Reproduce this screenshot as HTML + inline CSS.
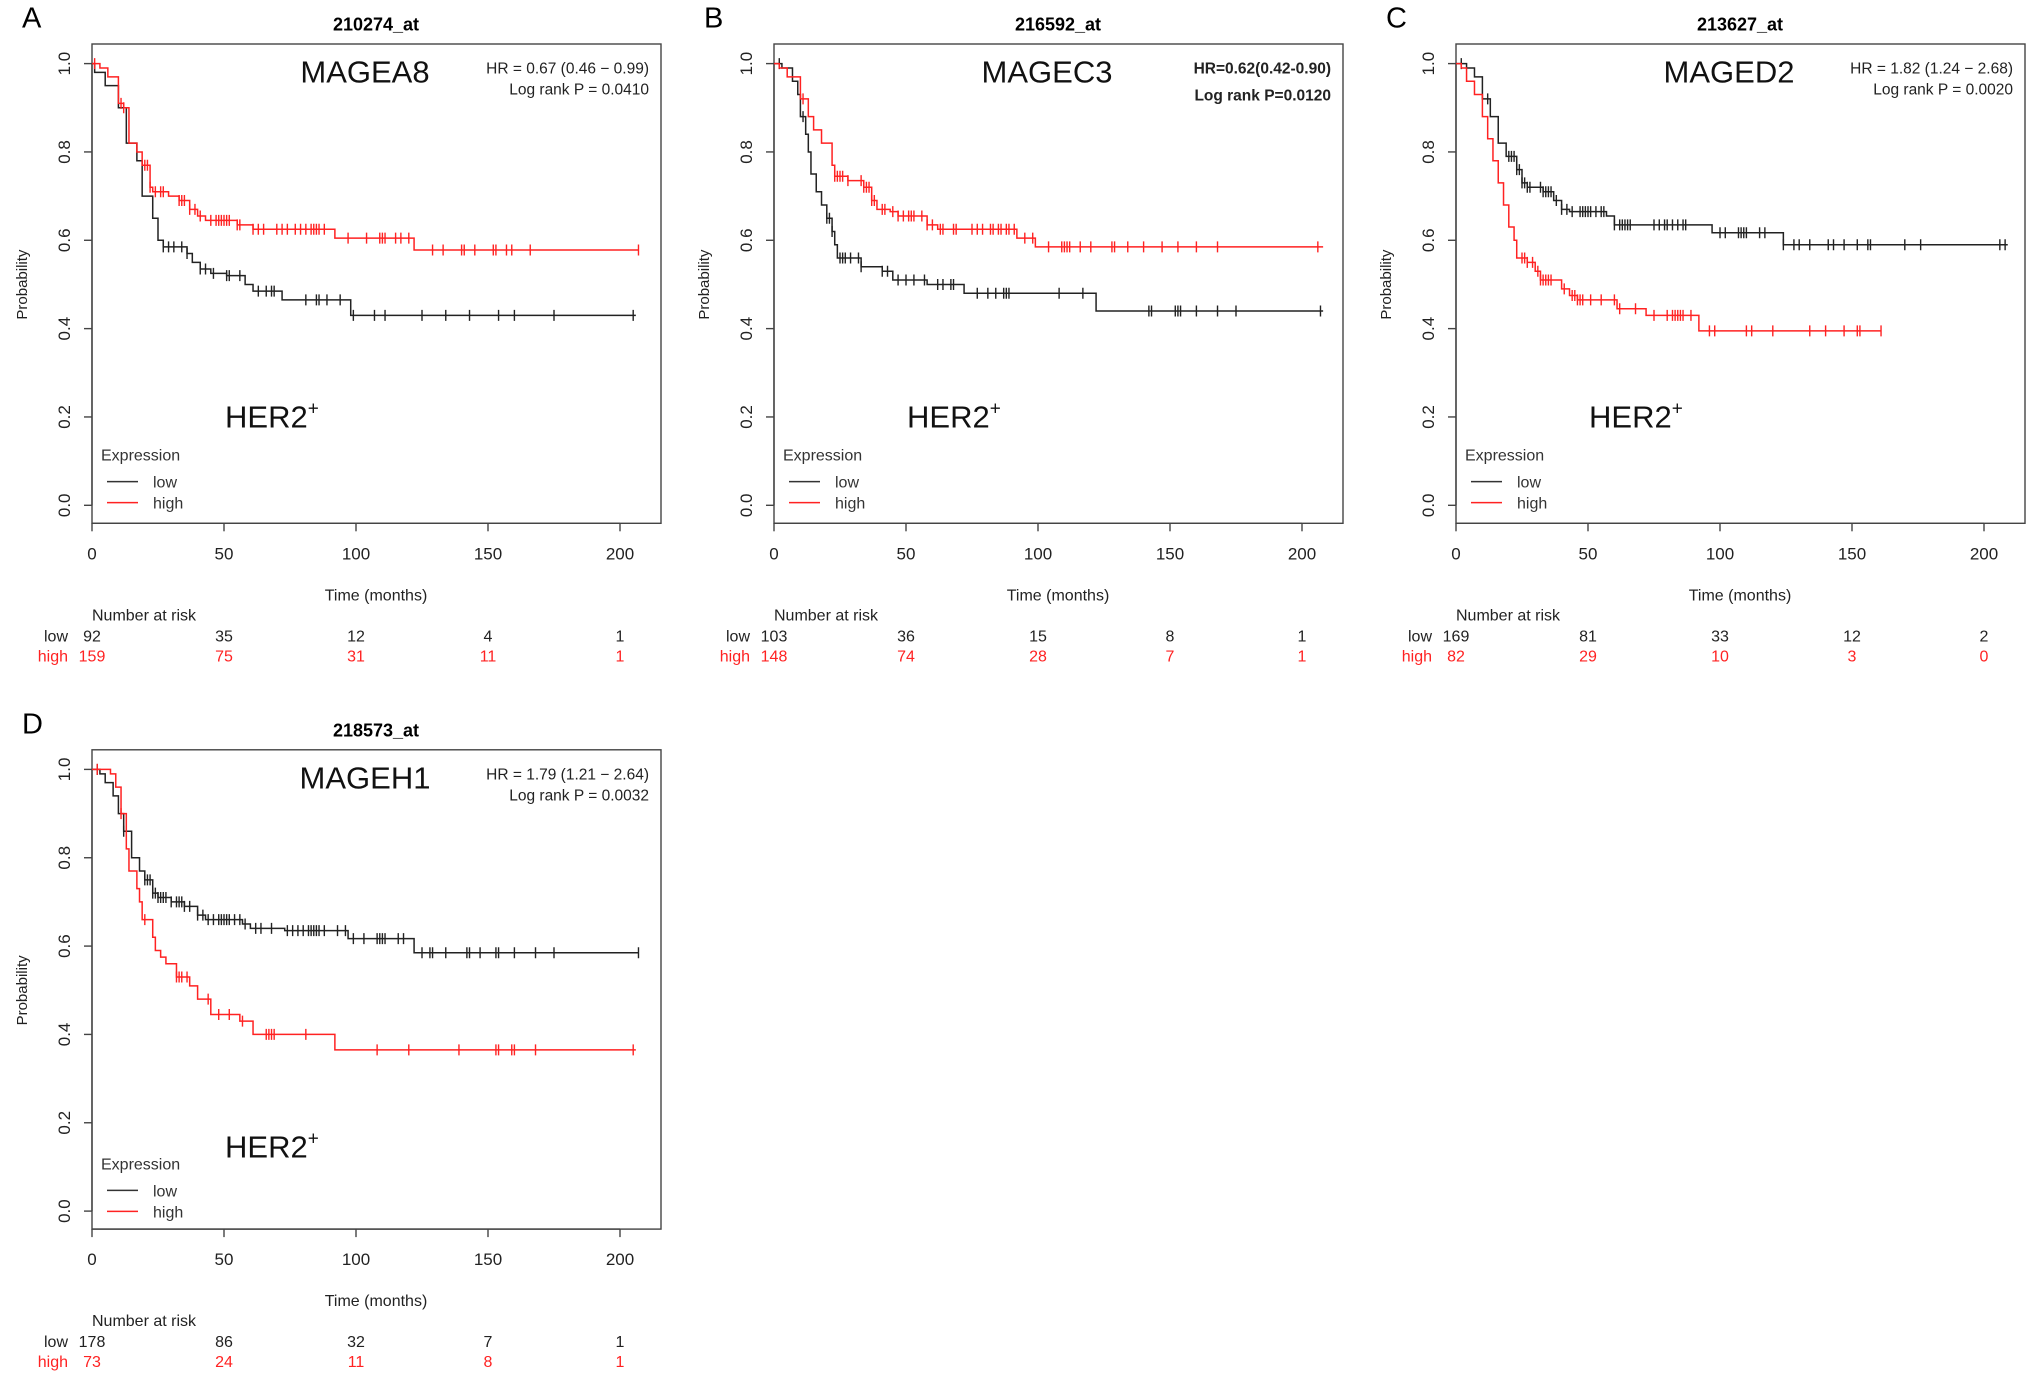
<!DOCTYPE html>
<html><head><meta charset="utf-8"><style>
body{margin:0;background:#fff;}
svg{display:block;font-family:"Liberation Sans",Arial,sans-serif;}
</style></head><body>
<svg id="fig" width="2031" height="1377" viewBox="0 0 2031 1377" xmlns="http://www.w3.org/2000/svg"></svg>
<script>
// ---- data ----
const panelLetters = ["A","B","C","D"];
const probeIds = ["210274_at","216592_at","213627_at","218573_at"];
const geneNames = ["MAGEA8","MAGEC3","MAGED2","MAGEH1"];
const hrTexts = ["HR = 0.67 (0.46 \u2212 0.99)","HR=0.62(0.42-0.90)","HR = 1.82 (1.24 \u2212 2.68)","HR = 1.79 (1.21 \u2212 2.64)"];
const pTexts = ["Log rank P = 0.0410","Log rank P=0.0120","Log rank P = 0.0020","Log rank P = 0.0032"];
const xTicks = [0,50,100,150,200];
const yTicks = [0,0.2,0.4,0.6,0.8,1.0];
const riskLow = [[92,35,12,4,1],[103,36,15,8,1],[169,81,33,12,2],[178,86,32,7,1]];
const riskHigh = [[159,75,31,11,1],[148,74,28,7,1],[82,29,10,3,0],[73,24,11,8,1]];

const lowSteps = [
 [[0,1],[1,0.98],[5,0.95],[10,0.9],[13,0.82],[17,0.78],[19,0.70],[23,0.65],[25,0.6],[27,0.585],[36,0.57],[38,0.55],[41,0.535],[45,0.525],[51,0.52],[58,0.5],[61,0.485],[72,0.465],[98,0.43]],
 [[0,1],[3,0.99],[7,0.96],[9,0.93],[10,0.88],[12,0.84],[13,0.8],[14,0.75],[16,0.71],[18,0.68],[20,0.65],[22,0.62],[23,0.59],[24,0.56],[33,0.54],[41,0.53],[45,0.51],[58,0.5],[72,0.48],[122,0.44]],
 [[0,1],[4,0.99],[7,0.97],[10,0.92],[13,0.88],[16,0.82],[19,0.79],[23,0.76],[25,0.73],[27,0.72],[33,0.71],[37,0.69],[40,0.67],[43,0.665],[57,0.655],[60,0.635],[97,0.617],[124,0.59]],
 [[0,1],[3,0.99],[5,0.97],[8,0.94],[10,0.9],[12,0.86],[15,0.8],[18,0.77],[20,0.75],[23,0.72],[25,0.71],[30,0.7],[35,0.69],[40,0.67],[43,0.66],[57,0.65],[60,0.64],[73,0.635],[97,0.617],[122,0.585]]
];
const lowEnd = [206,208,209,207];
const lowCensor = [
 [27,29,31,34,36,41,43,46,51,52,56,63,66,68,69,81,85,86,89,94,99,107,111,125,134,143,154,160,175,205],
 [2,11,20,21,22,25,26,27,29,32,33,41,43,47,50,53,57,62,64,67,68,77,81,84,87,88,89,108,117,142,143,152,153,154,160,168,175,207],
 [2,12,20,21,22,23,24,25,26,27,28,32,33,34,35,36,38,40,42,44,47,48,49,50,51,53,55,56,60,62,63,64,65,66,75,77,79,80,82,84,86,87,100,102,107,108,109,110,115,117,124,128,130,134,141,143,147,152,156,157,170,176,206,208],
 [2,12,20,21,22,23,24,25,26,27,28,30,32,33,34,35,37,40,42,44,46,48,49,50,51,52,54,56,58,62,64,68,74,76,78,80,82,83,84,85,86,88,93,96,99,103,108,109,110,111,116,118,125,128,129,134,142,143,147,153,154,160,168,175,207]
];
const highSteps = [
 [[0,1],[3,0.99],[6,0.97],[10,0.91],[12,0.9],[14,0.82],[17,0.8],[19,0.77],[22,0.72],[23,0.71],[29,0.7],[33,0.69],[37,0.67],[40,0.655],[43,0.645],[55,0.635],[61,0.625],[92,0.605],[122,0.578]],
 [[0,1],[2,0.99],[5,0.97],[10,0.92],[13,0.88],[15,0.85],[18,0.82],[22,0.77],[23,0.745],[28,0.735],[34,0.72],[37,0.69],[39,0.67],[44,0.665],[47,0.655],[58,0.635],[62,0.625],[92,0.605],[99,0.585]],
 [[0,1],[2,0.99],[4,0.96],[7,0.93],[10,0.88],[12,0.83],[14,0.78],[16,0.73],[18,0.68],[20,0.63],[22,0.6],[23,0.56],[27,0.55],[30,0.53],[32,0.51],[40,0.49],[43,0.475],[46,0.465],[61,0.445],[72,0.43],[92,0.395]],
 [[0,1],[7,0.99],[9,0.96],[11,0.9],[13,0.82],[14,0.77],[17,0.73],[18,0.7],[19,0.66],[23,0.62],[24,0.59],[26,0.575],[28,0.56],[32,0.53],[37,0.51],[40,0.48],[45,0.445],[56,0.43],[61,0.4],[92,0.365]]
];
const highEnd = [207,208,161,206];
const highCensor = [
 [1,11,12,20,21,22,24,26,27,33,34,35,37,39,41,45,47,48,49,50,51,52,55,56,61,63,65,70,72,74,77,79,81,83,84,85,86,88,97,104,109,110,111,115,117,120,129,133,140,141,145,152,153,157,159,166,207],
 [11,23,24,25,26,28,33,34,35,36,37,38,41,42,45,47,49,51,52,53,56,58,60,63,64,68,69,75,77,79,82,83,85,86,88,89,91,95,98,104,109,110,111,112,116,120,128,129,134,140,147,153,160,168,206],
 [25,26,27,29,31,32,33,34,35,36,41,44,45,46,47,48,51,55,60,62,68,75,80,82,83,84,85,86,89,96,98,110,112,120,134,140,147,152,153,161],
 [2,11,20,32,33,34,36,44,48,52,57,66,67,68,69,81,108,120,139,153,154,159,160,168,205]
];

// ---- layout ----
const origins = [[92,63.6],[774,63.6],[1456,63.6],[92,769.4]];
const her2Y = [364,364,364,388];
const XS = 528/200, YS = 441.7;
const NS = "http://www.w3.org/2000/svg";
const svg = document.getElementById("fig");
function el(tag, attrs, parent, text){
  const e = document.createElementNS(NS, tag);
  for (const k in attrs) e.setAttribute(k, attrs[k]);
  if (text !== undefined) e.textContent = text;
  (parent||svg).appendChild(e);
  return e;
}

for (let p=0;p<4;p++){
  const [x0,y1] = origins[p];
  const y0 = y1 + YS;
  const sx = t => x0 + t*XS;
  const sy = v => y0 - v*YS;
  const g = el("g",{});
  
  

  let t;
  t = el("text",{x:x0-70,y:y1-36,"font-size":29},g,panelLetters[p]);
   
  t = el("text",{x:x0+284,y:y1-33,"font-size":18,"font-weight":"bold","text-anchor":"middle"},g,probeIds[p]);
   

  const box = el("rect",{x:x0,y:y1-19.6,width:569,height:YS+37.6,fill:"none",stroke:"#444","stroke-width":1.4},g);
   

  // x axis
  const xa = el("g",{},g);
   
  const by = y0+18;
  el("line",{x1:sx(0),x2:sx(200),y1:by,y2:by,stroke:"#444","stroke-width":1.4},xa);
  xTicks.forEach(v=>{
    el("line",{x1:sx(v),x2:sx(v),y1:by,y2:by+8,stroke:"#444","stroke-width":1.4},xa);
    const tl = el("text",{x:sx(v),y:y0+54,"font-size":17,"text-anchor":"middle",fill:"#222"},xa,String(v));
     
  });
  t = el("text",{x:x0+284,y:y0+95,"font-size":16,"text-anchor":"middle",fill:"#222"},g,"Time (months)");
   

  // y axis
  const ya = el("g",{},g);
   
  el("line",{x1:x0-0,x2:x0,y1:sy(0),y2:sy(1),stroke:"#444","stroke-width":1.4},ya);
  yTicks.forEach(v=>{
    el("line",{x1:x0-8,x2:x0,y1:sy(v),y2:sy(v),stroke:"#444","stroke-width":1.4},ya);
    const tl = el("text",{x:x0-28,y:sy(v),"font-size":17,"text-anchor":"middle",fill:"#222",transform:`rotate(-90 ${x0-28} ${sy(v)})`,dy:6},ya,v.toFixed(1));
     
  });
  const pyc = y1+221;
  t = el("text",{x:x0-70,y:pyc,"font-size":15,"text-anchor":"middle",fill:"#222",transform:`rotate(-90 ${x0-70} ${pyc})`,dy:5},g,"Probability");
   

  // annotations
  t = el("text",{x:x0+273,y:y1+19,"font-size":31,"text-anchor":"middle",fill:"#111"},g,geneNames[p]);
   
  const bold = p===1 ? "bold" : "normal";
  t = el("text",{x:x0+557,y:y1+10,"font-size":15.5,"text-anchor":"end",fill:"#222","font-weight":bold},g,hrTexts[p]);
   
  t = el("text",{x:x0+557,y:y1+(p===1?37:31),"font-size":15.5,"text-anchor":"end",fill:"#222","font-weight":bold},g,pTexts[p]);
   
  const her = el("text",{x:x0+133,y:y1+her2Y[p],"font-size":31,fill:"#111"},g);
   
  her.appendChild(document.createTextNode("HER2"));
  el("tspan",{"font-size":19,dy:-13},her,"+");

  // legend
  const lg = el("g",{},g);
   
  const ly = y1+(p===3?400:397);
  el("text",{x:x0+9,y:ly,"font-size":16,fill:"#333"},lg,"Expression");
  el("line",{x1:x0+15,x2:x0+46,y1:ly+21,y2:ly+21,stroke:"#333","stroke-width":1.5},lg);
  el("text",{x:x0+61,y:ly+27,"font-size":16,fill:"#333"},lg,"low");
  el("line",{x1:x0+15,x2:x0+46,y1:ly+42,y2:ly+42,stroke:"#f22","stroke-width":1.5},lg);
  el("text",{x:x0+61,y:ly+48,"font-size":16,fill:"#333"},lg,"high");

  // curves
  function drawCurve(steps,end,cens,color,name){
    const cg = el("g",{},g);
    
    
    let d = `M${sx(steps[0][0])},${sy(steps[0][1])}`;
    for (let i=1;i<steps.length;i++){
      d += ` H${sx(steps[i][0])} V${sy(steps[i][1])}`;
    }
    d += ` H${sx(end)}`;
    el("path",{d:d,fill:"none",stroke:color,"stroke-width":1.5},cg);
    const sAt = tt => { let v=steps[0][1]; for (const s of steps){ if (s[0]<=tt) v=s[1]; } return v; };
    let cd = "";
    cens.forEach(c=>{ const X=sx(c), Y=sy(sAt(c)); cd += `M${X},${Y-5.5} V${Y+5.5} `; });
    el("path",{d:cd,fill:"none",stroke:color,"stroke-width":1.4},cg);
  }
  drawCurve(lowSteps[p],lowEnd[p],lowCensor[p],"#222","low-curve");
  drawCurve(highSteps[p],highEnd[p],highCensor[p],"#f22","high-curve");

  // risk table
  const rt = el("g",{},g);
   
  el("text",{x:x0,y:y0+115,"font-size":16,fill:"#222"},rt,"Number at risk");
  el("text",{x:x0-24,y:y0+136,"font-size":16,fill:"#222","text-anchor":"end"},rt,"low");
  el("text",{x:x0-24,y:y0+156,"font-size":16,fill:"#f22","text-anchor":"end"},rt,"high");
  xTicks.forEach((v,i)=>{
    el("text",{x:sx(v),y:y0+136,"font-size":16,fill:"#222","text-anchor":"middle"},rt,String(riskLow[p][i]));
    el("text",{x:sx(v),y:y0+156,"font-size":16,fill:"#f22","text-anchor":"middle"},rt,String(riskHigh[p][i]));
  });
}
</script>
</body></html>
